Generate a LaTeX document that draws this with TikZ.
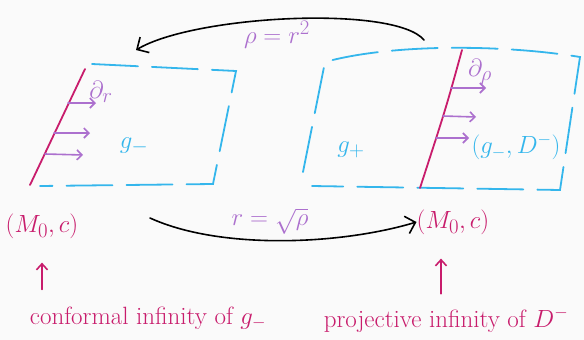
\documentclass[tikz,border=0pt]{standalone}
\usepackage{amsmath,amssymb}
\usepackage{tikz}
\usetikzlibrary{arrows.meta}
\definecolor{tintamag}{RGB}{200,28,108}
\definecolor{tintapur}{RGB}{172,112,206}
\definecolor{tintaazul}{RGB}{52,182,236}
\definecolor{papel}{RGB}{250,250,250}

\begin{document}
\begin{tikzpicture}[x=1pt, y=-1pt, line cap=round,
  borde/.style={draw=tintamag, line width=1.8pt},
  region/.style={draw=tintaazul, line width=1.8pt, dash pattern=on 46pt off 14pt},
  normalflecha/.style={draw=tintapur, line width=1.6pt, -{Straight Barb[length=5pt,width=10pt]}},
  mapa/.style={draw=black, line width=1.6pt, -{Straight Barb[length=9pt,width=18pt]}},
  subida/.style={draw=tintamag, line width=1.6pt, -{Straight Barb[length=6pt,width=11pt]}},
  texto/.style={inner sep=0pt, font=\fontsize{28}{30}\selectfont},
  leyenda/.style={inner sep=0pt, font=\fontsize{25}{27}\selectfont, text=tintamag}]
\fill[papel] (0,0) rectangle (584,340);
\useasboundingbox (0,0) rectangle (584,340);

% regiones
\draw[region] (92,64) -- (236,71) -- (213,184) -- (40,186);
\draw[region] (303,172) -- (325,62) .. controls (390,44) and (500,44) .. (580,57) -- (560,190) -- (312,186);
\draw[borde] (85,69) -- (30,185);
\draw[borde] (462,50) .. controls (446,108) .. (420,188);

% textos
\node[texto, text=tintapur] (dr) at (101,92) {$\partial_r$};
\node[texto, text=tintaazul] (gm) at (134,146) {$g_-$};
\node[texto, text=tintaazul] (gp) at (351,150) {$g_+$};
\node[texto, text=tintapur] (drho) at (480,72) {$\partial_\rho$};
\node[texto, text=tintaazul, font=\fontsize{24}{26}\selectfont] (par) at (516,147) {$(g_-, D^-)$};
\node[texto, text=tintapur] (rho) at (277,35) {$\rho = r^2$};
\node[texto, text=tintapur] (rr) at (270,221) {$r = \sqrt{\rho}$};
\node[texto, text=tintamag] (lmc) at (42,226) {$(M_0,c)$};
\node[texto, text=tintamag] (rmc) at (453,222) {$(M_0,c)$};
\node[leyenda] (lconf) at (148,318) {conformal infinity of $g_-$};
\node[leyenda] (rproj) at (446,320) {projective infinity of $D^-$};

% normales
\coordinate (i1) at (68,103); \coordinate (f1) at (96,103);
\coordinate (i2) at (54,133); \coordinate (f2) at (90,133);
\coordinate (i3) at (45,154); \coordinate (f3) at (83,155);
\coordinate (j1) at (451,88); \coordinate (g1) at (486,88);
\coordinate (j2) at (443,116); \coordinate (g2) at (476,117);
\coordinate (j3) at (436,138); \coordinate (g3) at (469,138);
\draw[normalflecha] (i1) -- (f1);
\draw[normalflecha] (i2) -- (f2);
\draw[normalflecha] (i3) -- (f3);
\draw[normalflecha] (j1) -- (g1);
\draw[normalflecha] (j2) -- (g2);
\draw[normalflecha] (j3) -- (g3);

% aplicaciones
\coordinate (arr) at (424,40);
\coordinate (izq) at (136,50);
\coordinate (aba) at (150,218);
\draw[mapa] (arr) .. controls (395,5) and (195,15) .. (izq);
\draw[mapa] (aba) .. controls (220,250) and (340,245) .. (rmc.west);

% flechas hacia arriba
\draw[subida, shorten <=17pt, shorten >=24pt] (lconf.north -| lmc.south) -- (lmc.south);
\draw[subida, shorten <=14pt, shorten >=24pt] ([xshift=-12pt]rmc.south |- rproj.north) -- ([xshift=-12pt]rmc.south);
\end{tikzpicture}
\end{document}
